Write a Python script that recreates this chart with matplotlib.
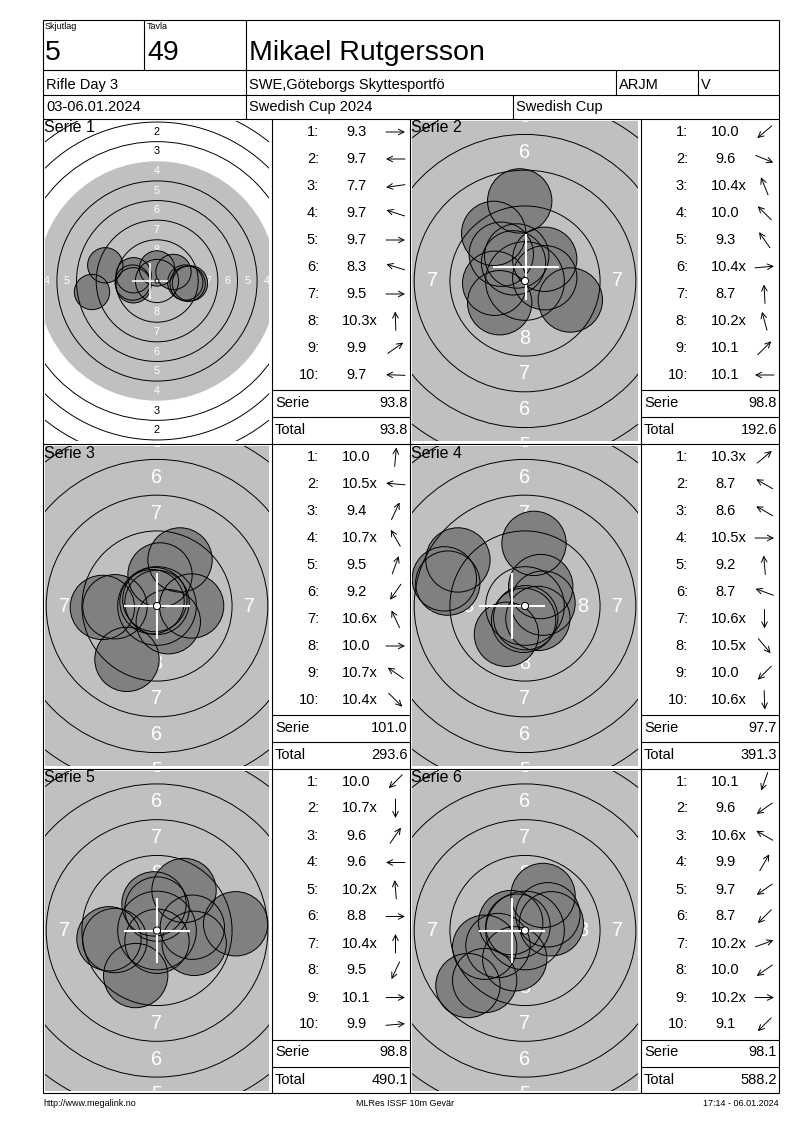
import matplotlib.pyplot as plt
from matplotlib.patches import Circle, Rectangle
import numpy as np

plt.rcParams['font.family'] = ['Liberation Sans', 'DejaVu Sans']

# header
skjutlag = "5"
tavla = "49"
name = "Mikael Rutgersson"
event = "Rifle Day 3"
club = "SWE,Göteborgs Skyttesportfö"
klass = "ARJM"
grupp = "V"
dates = "03-06.01.2024"
competition = "Swedish Cup 2024"
cup = "Swedish Cup"
footer_left = "http://www.megalink.no"
footer_mid = "MLRes ISSF 10m Gevär"
footer_right = "17:14 - 06.01.2024"

# scores and direction arrows (degrees, 0 = right, 90 = up) per serie
scores = [
    ["9.3", "9.7", "7.7", "9.7", "9.7", "8.3", "9.5", "10.3x", "9.9", "9.7"],
    ["10.0", "9.6", "10.4x", "10.0", "9.3", "10.4x", "8.7", "10.2x", "10.1", "10.1"],
    ["10.0", "10.5x", "9.4", "10.7x", "9.5", "9.2", "10.6x", "10.0", "10.7x", "10.4x"],
    ["10.3x", "8.7", "8.6", "10.5x", "9.2", "8.7", "10.6x", "10.5x", "10.0", "10.6x"],
    ["10.0", "10.7x", "9.6", "9.6", "10.2x", "8.8", "10.4x", "9.5", "10.1", "9.9"],
    ["10.1", "9.6", "10.6x", "9.9", "9.7", "8.7", "10.2x", "10.0", "10.2x", "9.1"],
]
arrows = [
    [0, 180, 188, 162, 0, 163, 0, 92, 35, 178],
    [220, 338, 112, 135, 125, 5, 93, 105, 45, 180],
    [85, 175, 65, 120, 70, 235, 115, 0, 145, 315],
    [40, 150, 150, 0, 95, 160, 270, 310, 225, 272],
    [225, 270, 55, 180, 95, 0, 90, 245, 0, 5],
    [250, 215, 150, 60, 215, 225, 20, 215, 0, 225],
]

# shot holes in mm from centre (y up)
shots_x = [
    [4.2, -3.0, -8.28, -2.98, 3.6, -6.59, 3.9, 0.0, 2.1, -3.1],
    [-0.37, -2.19, -0.58, 1.38, 3.17, -2.12, -1.77, 1.38, -1.66, -0.8],
    [-3.82, -2.94, -2.1, 2.42, 1.61, 0.21, 0.79, -0.15, -0.35, 0.0],
    [1.1, -4.69, -5.64, 1.26, 0.63, -5.4, 0.05, 0.9, -1.3, -0.1],
    [5.5, -3.36, -1.49, 1.89, -0.21, 0.0, 2.47, 2.6, 0.0, -2.95],
    [1.26, 1.84, 1.6, -0.49, -1.0, -2.82, -1.89, -0.72, -3.99, -2.82],
]
shots_y = [
    [-0.3, -0.55, -1.4, 0.73, -0.2, 2.0, -0.35, 1.6, 1.15, -0.2],
    [5.6, 3.33, 1.75, 1.52, -1.33, -0.16, -1.52, 0.23, 1.87, 1.27],
    [-0.1, -0.05, -3.73, 0.0, 3.22, 2.17, -1.1, 0.45, 0.3, 0.25],
    [1.36, 3.22, 1.9, 0.2, 4.38, 1.6, -0.82, -0.87, -1.98, -1.0],
    [0.47, -0.58, -3.15, 2.8, 1.86, 1.5, 0.23, -0.9, -0.75, -0.7],
    [2.45, 0.47, 1.1, 0.3, 0.55, -1.17, -1.05, -1.98, -3.85, -3.5],
]
# white cross (mean point of impact), mm
mpi_x = [-0.94, 0.09, 0.0, -0.91, 0.0, -0.91]
mpi_y = [0.0, 1.0, 0.0, 0.0, 0.0, 0.0]

# ISSF 10m air rifle ring diameters, ring 1 .. 10 (mm)
ring_d = [45.5, 40.5, 35.5, 30.5, 25.5, 20.5, 15.5, 10.5, 5.5, 0.5]
pellet_d = 4.5

# px per mm for each target picture
scale = [7.85, 14.3, 14.3, 14.3, 14.3, 14.3]

GRAY = '#c0c0c0'
SHOT = '#808080'
LW = 0.8

fig = plt.figure(figsize=(8, 11.3), dpi=100)
ax = fig.add_axes([0, 0, 1, 1])
ax.set_xlim(0, 800)
ax.set_ylim(1130, 0)
ax.axis('off')


def hline(y, x0, x1, z=20):
    ax.plot([x0, x1], [y, y], color='black', lw=LW, solid_capstyle='butt', zorder=z)


def vline(x, y0, y1, z=20):
    ax.plot([x, x], [y0, y1], color='black', lw=LW, solid_capstyle='butt', zorder=z)


L, R, T, B = 43, 779, 20, 1093

# header frame
hline(T, L, R)
hline(70, L, R)
hline(95, L, R)
hline(119, L, R)
vline(144, T, 70)
vline(246, T, 119)
vline(616, 70, 95)
vline(698, 70, 95)
vline(513, 95, 119)

ax.text(45, 22, "Skjutlag", fontsize=6.5, ha='left', va='top')
ax.text(147, 22, "Tavla", fontsize=6.5, ha='left', va='top')
ax.text(45, 53, skjutlag, fontsize=20.5, ha='left', va='center')
ax.text(147, 53, tavla, fontsize=20.5, ha='left', va='center')
ax.text(249, 53, name, fontsize=20.5, ha='left', va='center')
ax.text(46, 85, event, fontsize=10.5, ha='left', va='center')
ax.text(249, 85, club, fontsize=10.5, ha='left', va='center')
ax.text(619, 85, klass, fontsize=10.5, ha='left', va='center')
ax.text(701, 85, grupp, fontsize=10.5, ha='left', va='center')
ax.text(46, 107, dates, fontsize=10.5, ha='left', va='center')
ax.text(249, 107, competition, fontsize=10.5, ha='left', va='center')
ax.text(516, 107, cup, fontsize=10.5, ha='left', va='center')

target_x = [(43, 272), (410, 641)]
table_x = [(272, 410), (641, 779)]
row_top = [119, 444, 768.5]

totals = np.cumsum([sum(float(s.rstrip('x')) for s in ser) for ser in scores])

for i in range(6):
    r, c = divmod(i, 2)
    top = row_top[r]
    x0, x1 = target_x[c]
    tx0, tx1 = table_x[c]
    s = scale[i]
    cx = (x0 + x1) / 2 - 0.5
    cy = top + 162

    clip = Rectangle((x0 + 2, top + 2), x1 - x0 - 5, 320, transform=ax.transData)

    # aiming mark (ring 4 and inside)
    disk = Circle((cx, cy), ring_d[3] / 2 * s, fc=GRAY, ec='none', zorder=1)
    ax.add_patch(disk)
    disk.set_clip_path(clip)

    # ring numbers
    for k in range(8):
        m = (ring_d[k] + ring_d[k + 1]) / 4 * s
        col = 'white' if k >= 3 else 'black'
        for dx, dy in [(0, -m), (0, m), (-m, 0), (m, 0)]:
            t = ax.text(cx + dx, cy + dy, str(k + 1), fontsize=s, color=col,
                        ha='center', va='center', zorder=2, clip_on=True)
            t.set_clip_path(clip)

    # shots: fills first, then outlines
    px = cx + np.array(shots_x[i]) * s
    py = cy - np.array(shots_y[i]) * s
    for a, b in zip(px, py):
        h = Circle((a, b), pellet_d / 2 * s, fc=SHOT, ec='none', zorder=3)
        ax.add_patch(h)
        h.set_clip_path(clip)
    for a, b in zip(px, py):
        h = Circle((a, b), pellet_d / 2 * s, fc='none', ec='black', lw=0.7, zorder=4)
        ax.add_patch(h)
        h.set_clip_path(clip)

    # ring lines on top (edge of the aiming mark has no line)
    for k, d in enumerate(ring_d[:9]):
        if k == 3:
            continue
        ring = Circle((cx, cy), d / 2 * s, fc='none', ec='black', lw=0.7, zorder=5)
        ax.add_patch(ring)
        ring.set_clip_path(clip)

    # mean point of impact
    mx = cx + mpi_x[i] * s
    my = cy - mpi_y[i] * s
    arm = 2.3 * s
    cw = 1.5 if s > 10 else 1.1
    ax.plot([mx - arm, mx + arm], [my, my], color='white', lw=cw, zorder=6,
            solid_capstyle='butt')
    ax.plot([mx, mx], [my - arm, my + arm], color='white', lw=cw, zorder=6,
            solid_capstyle='butt')

    dot = Circle((cx, cy), ring_d[9] / 2 * s, fc='white', ec='black', lw=0.7, zorder=7)
    ax.add_patch(dot)

    ax.text(x0 + 1, top + 9, "Serie %d" % (i + 1), fontsize=11.5, ha='left',
            va='center', zorder=8)

    # table
    for j in range(10):
        y = top + 13 + 27 * j
        ax.text(tx0 + 47, y, "%d:" % (j + 1), fontsize=10.5, ha='right', va='center')
        sc = scores[i][j]
        off = 70 if float(sc.rstrip('x')) >= 10 else 74.5
        ax.text(tx0 + off, y, sc, fontsize=10.5, ha='left', va='center')
        ang = np.radians(arrows[i][j])
        ac = tx0 + 123.5
        dx = 9.5 * np.cos(ang)
        dy = -9.5 * np.sin(ang)
        ax.annotate('', xy=(ac + dx, y + dy), xytext=(ac - dx, y - dy),
                    arrowprops=dict(arrowstyle='->', lw=0.7, color='black',
                                    mutation_scale=10, shrinkA=0, shrinkB=0))

    hline(top + 271, tx0, tx1)
    hline(top + 298, tx0, tx1)
    ax.text(tx0 + 3, top + 284, "Serie", fontsize=10.5, ha='left', va='center')
    ax.text(tx1 - 2, top + 284, "%.1f" % (totals[i] - (totals[i - 1] if i else 0)),
            fontsize=10.5, ha='right', va='center')
    ax.text(tx0 + 3, top + 311, "Total", fontsize=10.5, ha='left', va='center')
    ax.text(tx1 - 2, top + 311, "%.1f" % totals[i], fontsize=10.5, ha='right',
            va='center')

# panel grid
for r in range(1, 3):
    hline(row_top[r], L, R)
hline(B, L, R)
vline(L, T, B)
vline(R, T, B)
for xv in (272, 410, 641):
    vline(xv, 119, B)

ax.text(43, 1103, footer_left, fontsize=6.5, ha='left', va='center')
ax.text(405, 1103, footer_mid, fontsize=6.5, ha='center', va='center')
ax.text(779, 1103, footer_right, fontsize=6.5, ha='right', va='center')

fig.savefig('out.png', dpi=100)
